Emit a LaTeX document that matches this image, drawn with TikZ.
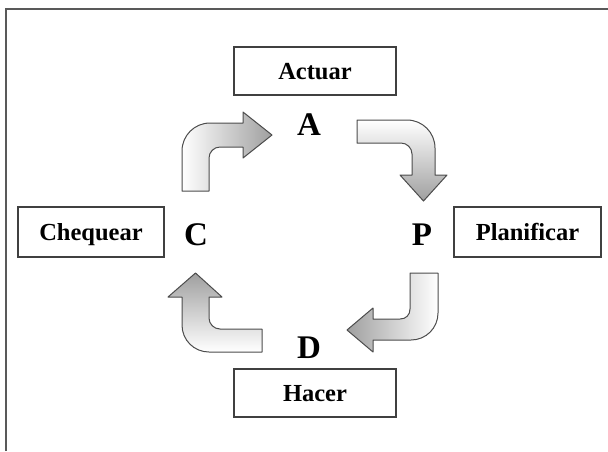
\documentclass[tikz,border=0pt]{standalone}
\usepackage{fontspec}
\setmainfont{Liberation Serif}
\begin{document}
\begin{tikzpicture}[x=1pt,y=-1pt,
  labelbox/.style={draw=black!75, line width=1.1pt, inner sep=0pt,
    font=\fontsize{24.5}{24.5}\selectfont\bfseries, text depth=0pt},
  phase/.style={font=\fontsize{33}{33}\selectfont\bfseries, anchor=base, inner sep=0pt},
  bent/.style={draw=black!70, line width=1pt, line join=round}]
\useasboundingbox (0,0) rectangle (608,451);

% outer frame (only top and left edges fall inside the page)
\draw[line width=1.3pt, black!65] (6,451) -- (6,9) -- (608,9);

% stage boxes
\node[labelbox, minimum width=162pt, minimum height=48pt] (actuar) at (315,71) {Actuar};
\node[labelbox, minimum width=146pt, minimum height=50pt] (chequear) at (91,232) {Chequear};
\node[labelbox, minimum width=147pt, minimum height=50pt] (planificar) at (527.5,232) {Planificar};
\node[labelbox, minimum width=162pt, minimum height=48pt] (hacer) at (315,393) {Hacer};

% cycle letters
\node[phase] (A) at (309,135) {A};
\node[phase] (C) at (196,245) {C};
\node[phase] (P) at (422,245) {P};
\node[phase] (D) at (309,358) {D};

% bent arrow C -> A
\draw[bent, left color=white, right color=gray!75]
  (182,191) -- (182,151) .. controls (182,135.5) and (194.5,123) .. (210,123)
  -- (243,123) -- (243,112) -- (272,135) -- (243,158) -- (243,147) -- (220,147)
  .. controls (214,147) and (209,152) .. (209,158) -- (209,191) -- cycle;

% bent arrow A -> P
\draw[bent, top color=white, bottom color=gray!75]
  (357,120) -- (407,120) .. controls (422.5,120) and (435,132.5) .. (435,148)
  -- (435,175) -- (447,175) -- (423.5,201) -- (400,175) -- (412,175) -- (412,154)
  .. controls (412,148) and (407,143) .. (401,143) -- (357,143) -- cycle;

% bent arrow P -> D
\draw[bent, right color=white, left color=gray!75]
  (410,273) -- (438,273) -- (438,313) .. controls (438,328) and (426,340) .. (411,340)
  -- (373,340) -- (373,352) -- (347,330) -- (373,308) -- (373,319) -- (400,319)
  .. controls (406,319) and (410,315) .. (410,309) -- cycle;

% bent arrow D -> C
\draw[bent, bottom color=white, top color=gray!75]
  (182,297) -- (182,325) .. controls (182,340) and (194,352) .. (209,352)
  -- (262,352) -- (262,329) -- (220,329) .. controls (214,329) and (209,324) .. (209,318)
  -- (209,297) -- (222,297) -- (195.5,273) -- (168,297) -- cycle;
\end{tikzpicture}
\end{document}
